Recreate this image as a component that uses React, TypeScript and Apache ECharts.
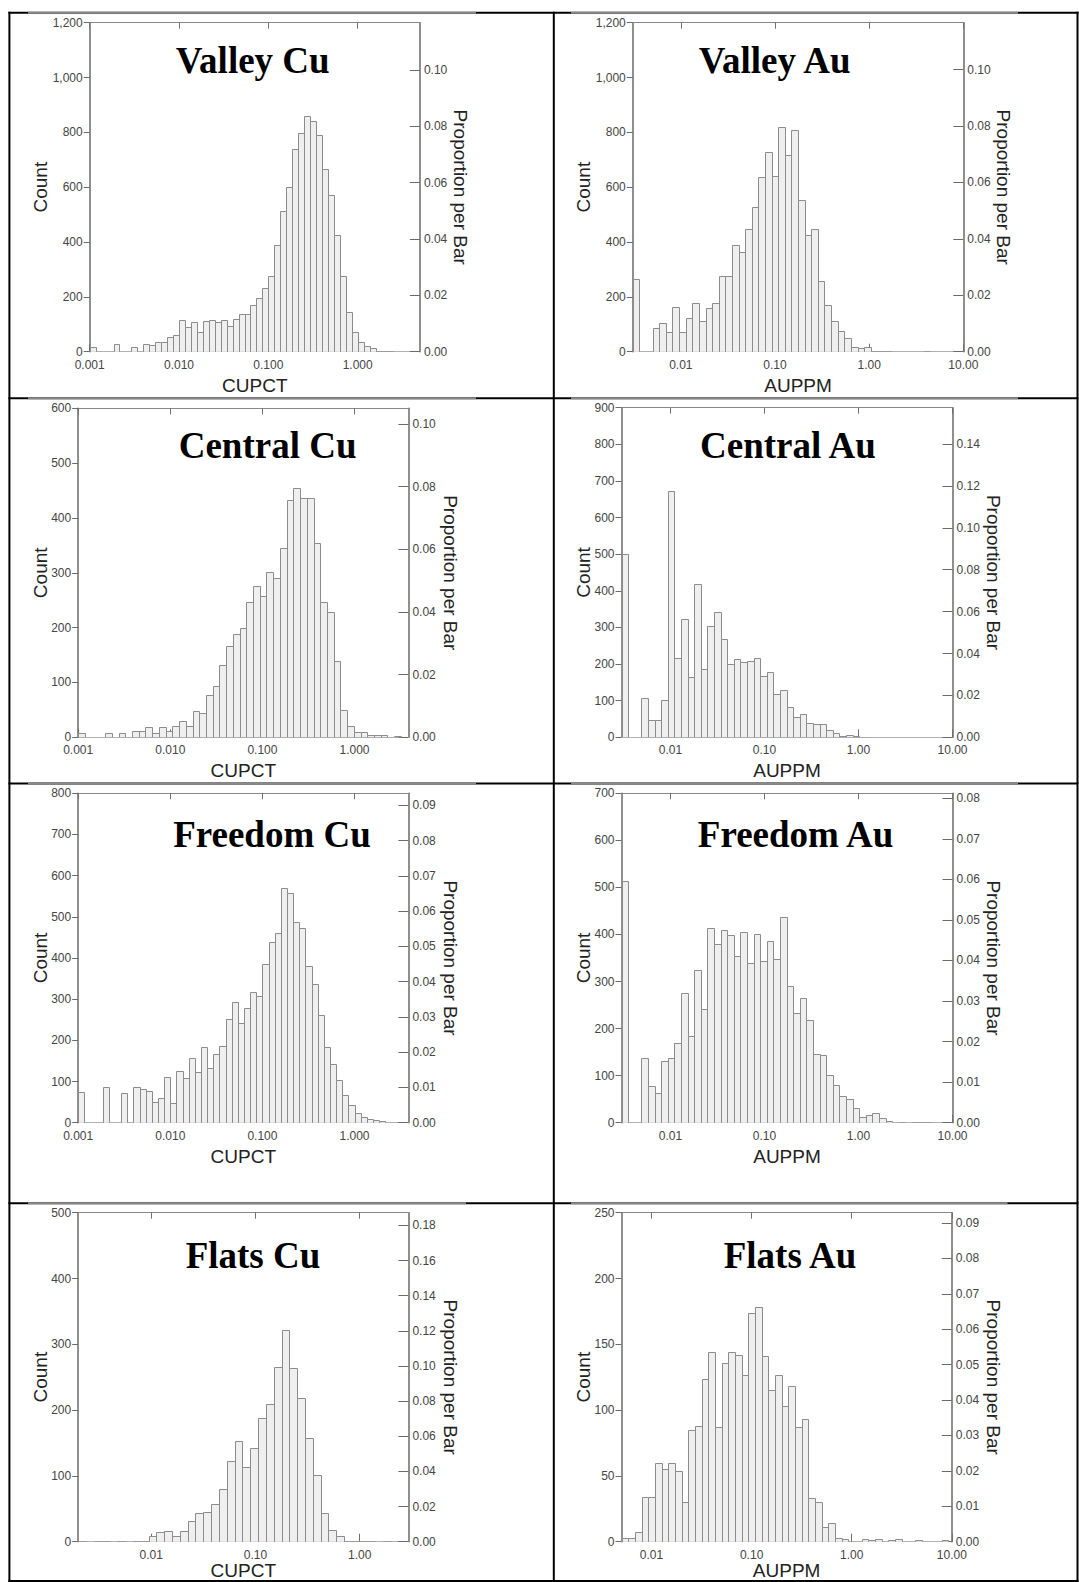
import React, { useEffect, useRef } from "react";
import * as echarts from "echarts";

// ---------- data ----------
const titles = ["Valley Cu", "Valley Au", "Central Cu", "Central Au", "Freedom Cu", "Freedom Au", "Flats Cu", "Flats Au"];
const xNames = ["CUPCT", "AUPPM", "CUPCT", "AUPPM", "CUPCT", "AUPPM", "CUPCT", "AUPPM"];

// counts per histogram bar (bars on log10 scale)
const valleyCu = [18, 0, 0, 0, 28, 0, 0, 16, 0, 28, 24, 36, 34, 52, 61, 115, 91, 109, 73, 113, 115, 109, 115, 94, 118, 136, 136, 170, 197, 231, 277, 389, 513, 602, 739, 799, 861, 841, 790, 665, 571, 426, 276, 143, 73, 36, 21, 12, 4, 3, 2];
const valleyAu = [264, 0, 0, 88, 106, 73, 164, 73, 122, 179, 112, 160, 179, 277, 277, 389, 365, 446, 526, 638, 727, 642, 818, 717, 808, 553, 426, 446, 259, 170, 113, 77, 49, 18, 12, 16, 4, 3, 2, 0, 0, 0, 0, 0, 2];
const centralCu = [8, 0, 0, 0, 8, 0, 8, 0, 12, 12, 18, 8, 18, 12, 20, 30, 20, 48, 45, 77, 94, 132, 166, 188, 200, 247, 276, 258, 302, 291, 346, 432, 455, 436, 436, 354, 246, 228, 140, 50, 20, 10, 10, 4, 4, 4, 0, 2];
const centralAu = [500, 0, 0, 108, 47, 47, 102, 672, 217, 322, 166, 419, 187, 304, 341, 268, 200, 214, 206, 209, 216, 167, 177, 117, 129, 84, 55, 64, 38, 35, 35, 20, 12, 4, 6, 3, 2, 2];
const freedomCu = [74, 0, 0, 0, 86, 0, 0, 71, 0, 86, 82, 78, 51, 59, 112, 49, 126, 108, 156, 124, 185, 134, 168, 186, 251, 294, 241, 278, 317, 308, 385, 438, 460, 569, 559, 488, 472, 381, 336, 262, 185, 143, 104, 67, 43, 24, 15, 9, 6, 4];
const freedomAu = [514, 0, 0, 138, 77, 64, 132, 138, 169, 275, 185, 325, 242, 413, 380, 410, 399, 355, 405, 340, 402, 344, 387, 348, 438, 291, 234, 264, 218, 146, 144, 101, 81, 57, 50, 32, 13, 16, 21, 11, 4, 0, 2, 0, 2, 2, 2];
const flatsCu = [1, 0, 1, 1, 0, 1, 0, 1, 1, 8, 14, 16, 8, 17, 31, 43, 45, 58, 80, 123, 153, 114, 143, 188, 209, 266, 322, 264, 219, 158, 101, 44, 18, 8, 1, 1, 1, 1, 0, 1];
const flatsAu = [3, 3, 7, 34, 34, 60, 55, 60, 54, 30, 85, 88, 124, 144, 87, 136, 144, 142, 127, 174, 178, 141, 115, 127, 103, 118, 87, 93, 33, 30, 11, 14, 3, 2, 0, 0, 2, 1, 2, 0, 1, 2, 0, 0, 1, 0, 0, 0, 1];
const counts = [valleyCu, valleyAu, centralCu, centralAu, freedomCu, freedomAu, flatsCu, flatsAu];

// bar layout on log10(value) scale: first bar edge and bar width
const binStart = [-3, -2.51, -3, -2.52, -3, -2.52, -2.7, -2.3];
const binWidth = [1 / 15, 0.0702, 0.073, 0.0702, 1 / 15, 0.0702, 0.075, 1 / 15];

// log10 axis ranges
const xMin = [-3, -2.51, -3, -2.52, -3, -2.52, -2.7, -2.3];
const xMax = [0.697, 1, 0.585, 1, 0.585, 1, 0.467, 1];
const xTicks = [
  [-3, -2, -1, 0], [-2, -1, 0, 1], [-3, -2, -1, 0], [-2, -1, 0, 1],
  [-3, -2, -1, 0], [-2, -1, 0, 1], [-2, -1, 0], [-2, -1, 0, 1],
];
const xDecimals = [3, 2, 3, 2, 3, 2, 2, 2];

// count axes
const countMax = [1200, 1200, 600, 900, 800, 700, 500, 250];
const countStep = [200, 200, 100, 100, 100, 100, 100, 50];
// total sample counts (proportion axis scale)
const totals = [10280, 10290, 5714, 5720, 8560, 8620, 2670, 2690];
const propTicks = [
  [0, 0.02, 0.04, 0.06, 0.08, 0.1],
  [0, 0.02, 0.04, 0.06, 0.08, 0.1],
  [0, 0.02, 0.04, 0.06, 0.08, 0.1],
  [0, 0.02, 0.04, 0.06, 0.08, 0.1, 0.12, 0.14],
  [0, 0.01, 0.02, 0.03, 0.04, 0.05, 0.06, 0.07, 0.08, 0.09],
  [0, 0.01, 0.02, 0.03, 0.04, 0.05, 0.06, 0.07, 0.08],
  [0, 0.02, 0.04, 0.06, 0.08, 0.1, 0.12, 0.14, 0.16, 0.18],
  [0, 0.01, 0.02, 0.03, 0.04, 0.05, 0.06, 0.07, 0.08, 0.09],
];

// ---------- layout ----------
const grids = [
  { left: 89.7, top: 22.7, width: 330.2, height: 329 },
  { left: 632.8, top: 22.7, width: 330.5, height: 329 },
  { left: 78.2, top: 408.3, width: 330.2, height: 329 },
  { left: 621.5, top: 407.7, width: 331, height: 329.6 },
  { left: 78.2, top: 793.3, width: 330.2, height: 329.4 },
  { left: 621.5, top: 793.3, width: 331, height: 329.4 },
  { left: 78.2, top: 1212.7, width: 330.2, height: 329 },
  { left: 621.5, top: 1212.7, width: 330.3, height: 329 },
];
const titlePos = [
  [252.7, 60.5], [774.6, 60.5], [267.6, 445.5], [787.9, 445.5],
  [272, 834], [795.6, 834], [253, 1255], [790, 1255],
];
const countX = [40, 583, 40, 583, 40, 583, 40, 583];
const propX = [460.5, 1003, 450.8, 993.8, 450.8, 993.8, 450.8, 993.8];
const xNameGap = [33.5, 33.5, 33.5, 33.5, 33.5, 33.5, 28.5, 28.5];

const SANS = '"Liberation Sans", Arial, sans-serif';
const SERIF = '"Liberation Serif", "Times New Roman", serif';

function buildOption() {
  const grid: any[] = [];
  const xAxis: any[] = [];
  const yAxis: any[] = [];
  const series: any[] = [];
  const graphic: any[] = [];

  for (let i = 0; i < 8; i++) {
    const g = grids[i];
    grid.push({ left: g.left, top: g.top, width: g.width, height: g.height, containLabel: false });
    const dec = xDecimals[i];
    xAxis.push({
      type: "value",
      gridIndex: i,
      position: "bottom",
      min: xMin[i],
      max: xMax[i],
      axisLine: { show: true, onZero: false, lineStyle: { color: "#b0b0b0", width: 1 } },
      axisTick: { show: true, inside: true, length: 8, customValues: xTicks[i], lineStyle: { color: "#707070", width: 1 } },
      axisLabel: {
        show: true,
        customValues: xTicks[i],
        margin: 7,
        color: "#444",
        fontSize: 12,
        fontFamily: SANS,
        formatter: (v: number) => Math.pow(10, v).toFixed(dec),
      },
      splitLine: { show: false },
    });
    xAxis.push({
      type: "value",
      gridIndex: i,
      position: "top",
      min: xMin[i],
      max: xMax[i],
      axisLine: { show: true, onZero: false, lineStyle: { color: "#888", width: 1 } },
      axisTick: { show: true, inside: true, length: 6, customValues: xTicks[i], lineStyle: { color: "#707070", width: 1 } },
      axisLabel: { show: false },
      splitLine: { show: false },
    });
    yAxis.push({
      type: "value",
      gridIndex: i,
      position: "left",
      min: 0,
      max: countMax[i],
      interval: countStep[i],
      axisLine: { show: true, onZero: false, lineStyle: { color: "#6a6a6a", width: 1.5 } },
      axisTick: { show: true, inside: false, length: 6, lineStyle: { color: "#6a6a6a", width: 1 } },
      axisLabel: {
        margin: 7,
        color: "#444",
        fontSize: 12,
        fontFamily: SANS,
        formatter: (v: number) => v.toLocaleString("en-US"),
      },
      splitLine: { show: false },
    });
    const pMax = countMax[i] / totals[i];
    yAxis.push({
      type: "value",
      gridIndex: i,
      position: "right",
      min: 0,
      max: pMax,
      axisLine: { show: true, onZero: false, lineStyle: { color: "#6a6a6a", width: 1.5 } },
      axisTick: { show: true, inside: true, length: 10, customValues: propTicks[i], lineStyle: { color: "#6a6a6a", width: 1 } },
      axisLabel: {
        customValues: propTicks[i],
        margin: 4,
        color: "#444",
        fontSize: 12,
        fontFamily: SANS,
        formatter: (v: number) => v.toFixed(2),
      },
      splitLine: { show: false },
    });

    const data = counts[i]
      .map((c, k) => [binStart[i] + k * binWidth[i], binStart[i] + (k + 1) * binWidth[i], c])
      .filter((d) => d[2] > 0);

    series.push({
      type: "custom",
      name: titles[i],
      xAxisIndex: 2 * i,
      yAxisIndex: 2 * i,
      data,
      encode: { x: [0, 1], y: 2 },
      clip: true,
      renderItem: (params: any, api: any) => {
        const x0 = api.value(0);
        const x1 = api.value(1);
        const c = api.value(2);
        const p0 = api.coord([x0, c]);
        const p1 = api.coord([x1, 0]);
        const left = Math.round(p0[0]) + 0.5;
        const right = Math.round(p1[0]) + 0.5;
        const top = Math.round(p0[1]) + 0.5;
        const bottom = Math.round(p1[1]) + 0.5;
        return {
          type: "rect",
          shape: { x: left, y: top, width: right - left, height: Math.max(bottom - top, 0.5) },
          style: { fill: "#efefef", stroke: "#8c8c8c", lineWidth: 1 },
        };
      },
    });

    // titles and axis names
    graphic.push({
      type: "text",
      x: titlePos[i][0],
      y: titlePos[i][1],
      style: {
        text: titles[i],
        font: `bold 37px ${SERIF}`,
        fill: "#000",
        textAlign: "center",
        textVerticalAlign: "middle",
        align: "center",
        verticalAlign: "middle",
      },
    });
    const cy = g.top + g.height / 2;
    graphic.push({
      type: "text",
      x: countX[i],
      y: cy,
      rotation: Math.PI / 2,
      style: {
        text: "Count",
        font: `19px ${SANS}`,
        fill: "#222",
        textAlign: "center",
        textVerticalAlign: "middle",
        align: "center",
        verticalAlign: "middle",
      },
    });
    graphic.push({
      type: "text",
      x: propX[i],
      y: cy,
      rotation: -Math.PI / 2,
      style: {
        text: "Proportion per Bar",
        font: `19px ${SANS}`,
        fill: "#222",
        textAlign: "center",
        textVerticalAlign: "middle",
        align: "center",
        verticalAlign: "middle",
      },
    });
    graphic.push({
      type: "text",
      x: g.left + g.width / 2,
      y: g.top + g.height + xNameGap[i],
      style: {
        text: xNames[i],
        font: `19px ${SANS}`,
        fill: "#222",
        textAlign: "center",
        textVerticalAlign: "middle",
        align: "center",
        verticalAlign: "middle",
      },
    });
  }

  // table frame
  const black = { stroke: "#000", lineWidth: 2 };
  const rowsY = [12.7, 398.3, 783.5, 1203.3, 1581];
  rowsY.forEach((y) => {
    graphic.push({ type: "line", shape: { x1: 8.4, y1: y, x2: 1078.5, y2: y }, style: black, z: 10 });
  });
  [9.4, 553.8, 1077.5].forEach((x) => {
    graphic.push({ type: "line", shape: { x1: x, y1: 11.7, x2: x, y2: 1582 }, style: black, z: 10 });
  });
  const graySegs = [
    [12.7, 28, 476, 571, 1018],
    [398.3, 28, 476, 571, 1018],
    [783.5, 28, 476, 571, 1018],
    [1203.3, 28, 466, 571, 1007.5],
  ];
  graySegs.forEach(([y, a1, a2, b1, b2]) => {
    graphic.push({ type: "line", shape: { x1: a1, y1: y, x2: a2, y2: y }, style: { stroke: "#8a8a8a", lineWidth: 2 }, z: 11 });
    graphic.push({ type: "line", shape: { x1: b1, y1: y, x2: b2, y2: y }, style: { stroke: "#8a8a8a", lineWidth: 2 }, z: 11 });
  });

  return {
    animation: false,
    backgroundColor: "#fff",
    grid,
    xAxis,
    yAxis,
    series,
    graphic: { elements: graphic },
  };
}

export default function App() {
  const ref = useRef<HTMLDivElement>(null);
  useEffect(() => {
    if (!ref.current) return;
    const chart = echarts.init(ref.current, null, { renderer: "svg" });
    chart.setOption(buildOption() as any);
    return () => chart.dispose();
  }, []);
  return (
    <div
      ref={ref}
      style={{ position: "absolute", left: 0, top: 0, width: 1079, height: 1582, background: "#fff" }}
    />
  );
}
